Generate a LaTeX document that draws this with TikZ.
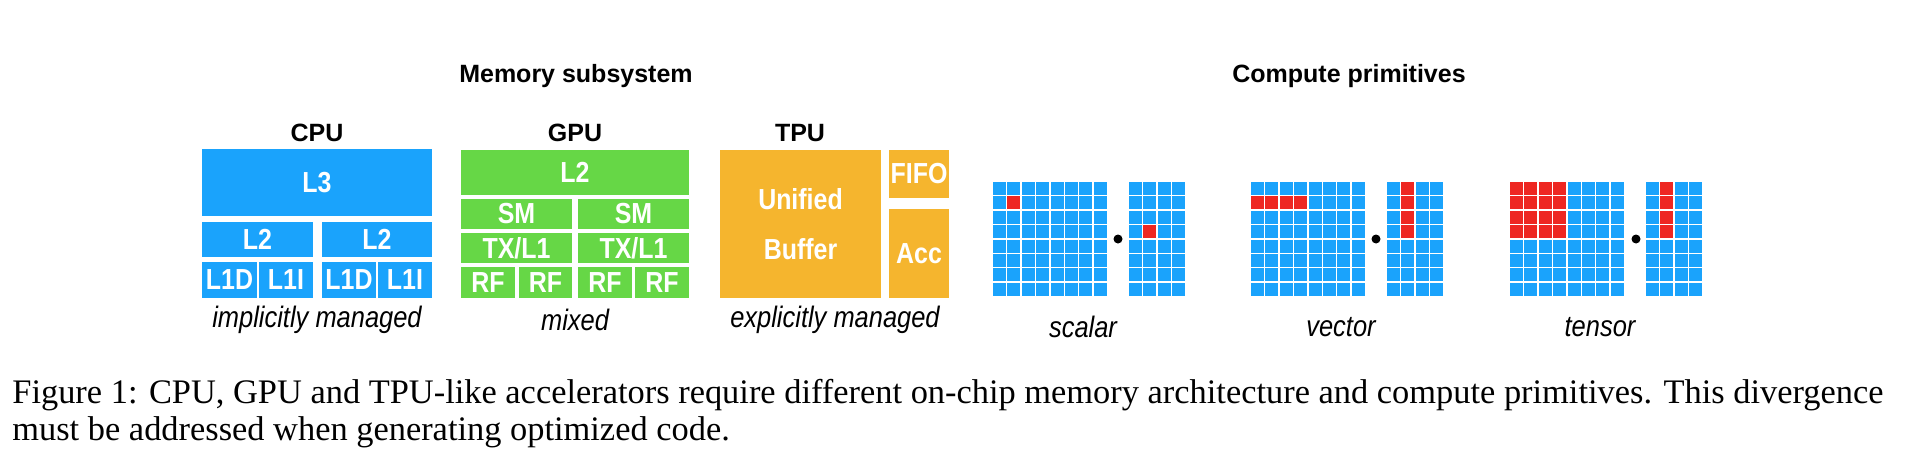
\documentclass[tikz,border=0pt]{standalone}
\usepackage{fontspec}
\setmainfont{Liberation Serif}
\newfontfamily\hsans{Liberation Sans}
\newfontfamily\csans[FakeStretch=0.86]{Liberation Sans}
\definecolor{cblue}{HTML}{1AA3FC}
\definecolor{cgreen}{HTML}{66D746}
\definecolor{corange}{HTML}{F5B52E}
\definecolor{cred}{HTML}{EE2722}
\newcommand\blk[6]{\fill[#5] (#1,#2) rectangle (#3,#4);
  \node[lbl] at ({(#1+#3)/2},{(#2+#4)/2}) {#6};}
\newcommand\bluegrid[2]{\foreach \i in {1,...,#2} \foreach \j in {1,...,8}
  \fill[cblue] ({#1+(\i-1)*14.4},{182+(\j-1)*14.4}) rectangle +(12.9,12.9);}
\newcommand\redcell[3]{\fill[cred] ({#1+(#2-1)*14.4},{182+(#3-1)*14.4}) rectangle +(12.9,12.9);}
\begin{document}
\begin{tikzpicture}[x=0.5pt,y=-0.5pt,
  lbl/.style={text=white,font=\csans\bfseries\fontsize{14.5}{19}\selectfont,inner sep=0,align=center},
  ttl/.style={font=\hsans\bfseries\fontsize{12.5}{14}\selectfont,inner sep=0},
  sub/.style={font=\csans\itshape\fontsize{14.8}{16}\selectfont,inner sep=0},
  dotm/.style={circle,fill=black,inner sep=0,minimum size=4.5pt}]
\useasboundingbox (0,0) rectangle (1922,456);
\node[ttl] (mem) at (576,76) {Memory subsystem};
\node[ttl] (comp) at (1349,76) {Compute primitives};
% CPU
\node[ttl] (cpu) at (317,133) {CPU};
\blk{202}{149}{432}{216}{cblue}{L3}
\blk{202}{222}{313}{257}{cblue}{L2}
\blk{322}{222}{432}{257}{cblue}{L2}
\blk{202}{262}{257}{298}{cblue}{L1D}
\blk{259}{262}{313}{298}{cblue}{L1I}
\blk{322}{262}{376}{298}{cblue}{L1D}
\blk{378}{262}{432}{298}{cblue}{L1I}
\node[sub] (cpul) at (317,320) {implicitly managed};
% GPU
\node[ttl] (gpu) at (575,133) {GPU};
\blk{461}{150}{689}{195}{cgreen}{L2}
\blk{461}{199}{572}{229}{cgreen}{SM}
\blk{578}{199}{689}{229}{cgreen}{SM}
\blk{461}{233}{572}{263}{cgreen}{TX/L1}
\blk{578}{233}{689}{263}{cgreen}{TX/L1}
\blk{461}{267}{515}{298}{cgreen}{RF}
\blk{519}{267}{572}{298}{cgreen}{RF}
\blk{578}{267}{632}{298}{cgreen}{RF}
\blk{635}{267}{689}{298}{cgreen}{RF}
\node[sub] (gpul) at (575,320) {mixed};
% TPU
\node[ttl] (tpu) at (800,133) {TPU};
\blk{720}{150}{881}{298}{corange}{Unified\\[6pt]Buffer}
\blk{889}{150}{949}{198}{corange}{FIFO}
\blk{889}{209}{949}{298}{corange}{Acc}
\node[sub] (tpul) at (835,320) {explicitly managed};
% grids
\bluegrid{993}{8}\bluegrid{1129}{4}
\redcell{993}{2}{2}\redcell{1129}{2}{4}
\node[dotm] (d1) at (1118,239) {};
\bluegrid{1251}{8}\bluegrid{1387}{4}
\foreach \i in {1,...,4}{\redcell{1251}{\i}{2}\redcell{1387}{2}{\i}}
\node[dotm] (d2) at (1376,239) {};
\bluegrid{1510}{8}\bluegrid{1646}{4}
\foreach \i in {1,...,4}{\redcell{1646}{2}{\i}\foreach \j in {1,...,4}{\redcell{1510}{\i}{\j}}}
\node[dotm] (d3) at (1636,239) {};
\node[sub] (s1) at (1083,327) {scalar};
\node[sub] (s2) at (1341,327) {vector};
\node[sub] (s3) at (1600,327) {tensor};
% caption
\node[anchor=base west,inner sep=0,font=\fontsize{17.2}{20}\selectfont] (cap1) at (12,403) {Figure 1: CPU, GPU and TPU-like accelerators require different on-chip memory architecture and compute primitives. This divergence};
\node[anchor=base west,inner sep=0,font=\fontsize{17.2}{20}\selectfont] (cap2) at (12,440) {must be addressed when generating optimized code.};
\end{tikzpicture}
\end{document}
